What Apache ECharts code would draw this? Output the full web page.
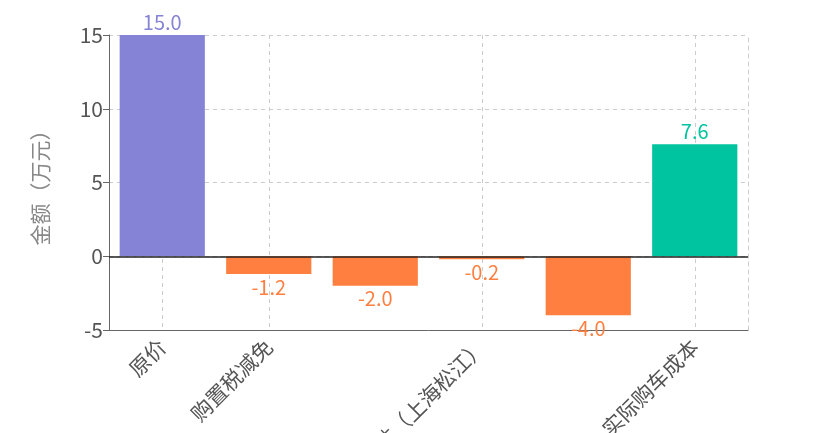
<!DOCTYPE html>
<html>
<head>
<meta charset="utf-8">
<script src="https://cdn.jsdelivr.net/npm/echarts@6/dist/echarts.min.js"></script>
<style>
  html, body { margin: 0; padding: 0; background: #fff; }
  #chart { width: 830px; height: 433px; }
</style>
</head>
<body>
<div id="chart"></div>
<script>
// 购车成本构成（万元）
const categories = ['原价', '购置税减免', '厂商补贴', '地方补贴（上海松江）', '以旧换新补贴', '实际购车成本']
const values = [15.0, -1.2, -2.0, -0.2, -4.0, 7.6]
const yTicks = { min: -5, max: 15, step: 5 }
const hiddenLabels = [2, 4]

const colorFor = (i, v) => {
    if (i === 0) return '#8583d6'
    if (i === values.length - 1) return '#00c49f'
    return v < 0 ? '#ff7f40' : '#00c49f'
}
const showTick = (i) => hiddenLabels.indexOf(i) < 0

const chart = echarts.init(document.getElementById('chart'))
chart.setOption({
    animation: false,
    grid: {
        left: 109,
        right: 82,
        top: 35,
        bottom: 103,
        containLabel: false,
        outerBoundsMode: 'none'
    },
    xAxis: {
        type: 'category',
        data: categories,
        axisLine: { onZero: false, lineStyle: { color: '#666' } },
        axisTick: { alignWithLabel: true, interval: showTick, length: 6, lineStyle: { color: '#666' } },
        axisLabel: {
            interval: showTick,
            rotate: 45,
            fontSize: 21,
            color: '#555',
            fontFamily: 'Noto Sans CJK SC',
            margin: 13
        },
        splitLine: {
            show: true,
            alignWithLabel: true,
            interval: showTick,
            lineStyle: { color: '#ccc', type: [4, 4] }
        }
    },
    yAxis: [{
        type: 'value',
        min: yTicks.min,
        max: yTicks.max,
        interval: yTicks.step,
        name: '金额（万元）',
        nameLocation: 'middle',
        nameGap: 58,
        nameTextStyle: { fontSize: 21, color: '#888', fontFamily: 'Noto Sans CJK SC' },
        axisLine: { show: true, lineStyle: { color: '#666' } },
        axisTick: { show: true, length: 6, lineStyle: { color: '#666' } },
        axisLabel: { fontSize: 21, color: '#555', fontFamily: 'Noto Sans CJK SC', margin: 6 },
        splitLine: { lineStyle: { color: '#ccc', type: [4, 4] } }
    }, {
        // dashed right border of the plot area
        type: 'value',
        position: 'right',
        min: yTicks.min,
        max: yTicks.max,
        interval: yTicks.step,
        axisLine: { show: true, lineStyle: { color: '#ccc', type: [4, 4] } },
        axisTick: { show: false },
        axisLabel: { show: false },
        splitLine: { show: false }
    }],
    series: [{
        type: 'bar',
        barCategoryGap: '20%',
        data: values.map((v, i) => ({
            value: v,
            itemStyle: { color: colorFor(i, v) },
            label: {
                show: true,
                position: v < 0 ? 'bottom' : 'top',
                distance: 3,
                color: colorFor(i, v),
                fontSize: 20,
                fontFamily: 'Noto Sans CJK SC',
                formatter: (p) => p.value.toFixed(1)
            }
        })),
        markLine: {
            silent: true,
            symbol: 'none',
            label: { show: false },
            lineStyle: { color: '#222', type: 'solid', width: 1.5 },
            data: [{ yAxis: 0 }]
        }
    }]
})
</script>
</body>
</html>
